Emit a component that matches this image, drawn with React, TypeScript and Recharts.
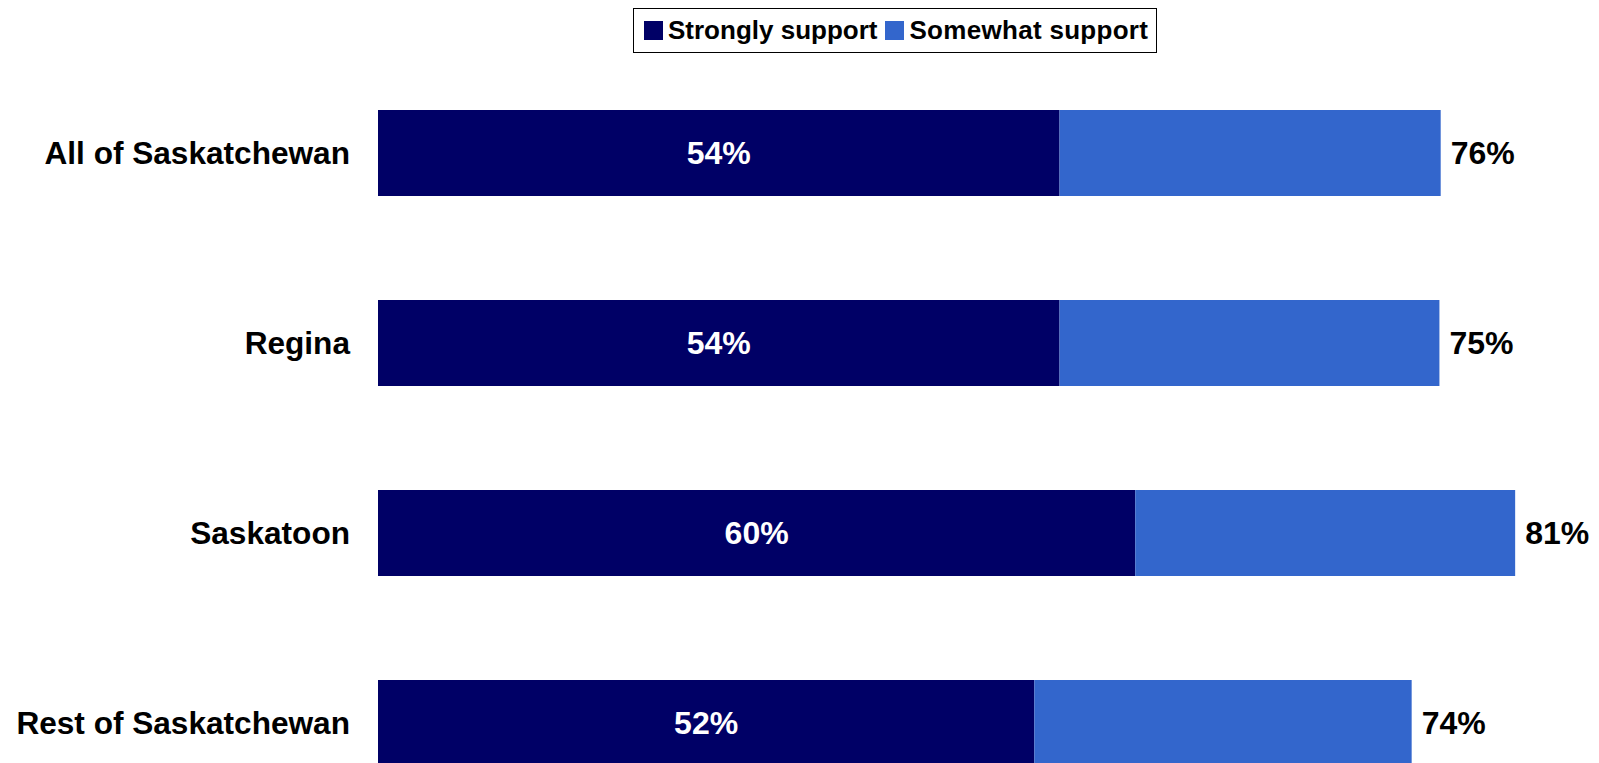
import { BarChart, Bar, XAxis, YAxis, LabelList } from "recharts";

// regions, top to bottom
const regions = ["All of Saskatchewan", "Regina", "Saskatoon", "Rest of Saskatchewan"];
// bar segment lengths as drawn
const stronglySupport = [54, 54, 60, 52];
const somewhatSupport = [30.2, 30.1, 30.1, 29.9];
// total support labels printed at the bar ends
const totalSupport = [76, 75, 81, 74];

const STRONG = "#000066";
const SOMEWHAT = "#3366CC";
const FONT = "'Liberation Sans', Arial, Helvetica, sans-serif";

const chartData = regions.map((name, i) => ({
    name,
    strong: stronglySupport[i],
    somewhat: somewhatSupport[i],
    total: totalSupport[i],
}));

function LegendBox() {
    const item = (color: string, label: string, gap: number) => (
        <span style={{ display: "inline-flex", alignItems: "center", marginRight: gap }}>
            <span style={{ width: 19, height: 19, background: color, display: "inline-block", marginRight: 5 }} />
            <span>{label}</span>
        </span>
    );
    return (
        <div
            style={{
                position: "absolute",
                top: 0,
                left: 625,
                width: 524,
                height: 45,
                border: "1.5px solid #000",
                boxSizing: "border-box",
                display: "flex",
                alignItems: "center",
                paddingLeft: 10,
                fontFamily: FONT,
                fontWeight: 700,
                fontSize: 26,
                color: "#000",
                whiteSpace: "nowrap",
                background: "#fff",
                zIndex: 2,
            }}
        >
            {item(STRONG, "Strongly support", 8)}
            <span style={{ letterSpacing: 0.3 }}>{item(SOMEWHAT, "Somewhat support", 0)}</span>
        </div>
    );
}

export default function App() {
    return (
        <div style={{ position: "relative", width: 1591, height: 810 }}>
            <LegendBox />
            <BarChart
                width={1591}
                height={810}
                data={chartData}
                layout="vertical"
                margin={{ top: 50, right: 22, left: 0, bottom: 0 }}
                barCategoryGap={52}
            >
                <XAxis type="number" domain={[0, 95]} hide />
                <YAxis
                    type="category"
                    dataKey="name"
                    width={370}
                    axisLine={false}
                    tickLine={false}
                    tickSize={0}
                    tickMargin={28}
                    tick={{ fill: "#000", fontSize: 31.6, fontWeight: 700, fontFamily: FONT }}
                />
                <Bar dataKey="strong" stackId="a" fill={STRONG} isAnimationActive={false}>
                    <LabelList
                        dataKey="strong"
                        position="center"
                        formatter={(v: any) => `${v}%`}
                        style={{ fill: "#fff", fontSize: 32, fontWeight: 700, fontFamily: FONT }}
                    />
                </Bar>
                <Bar dataKey="somewhat" stackId="a" fill={SOMEWHAT} isAnimationActive={false}>
                    <LabelList
                        dataKey="total"
                        position="right"
                        offset={10}
                        formatter={(v: any) => `${v}%`}
                        style={{ fill: "#000", fontSize: 32, fontWeight: 700, fontFamily: FONT }}
                    />
                </Bar>
            </BarChart>
        </div>
    );
}
